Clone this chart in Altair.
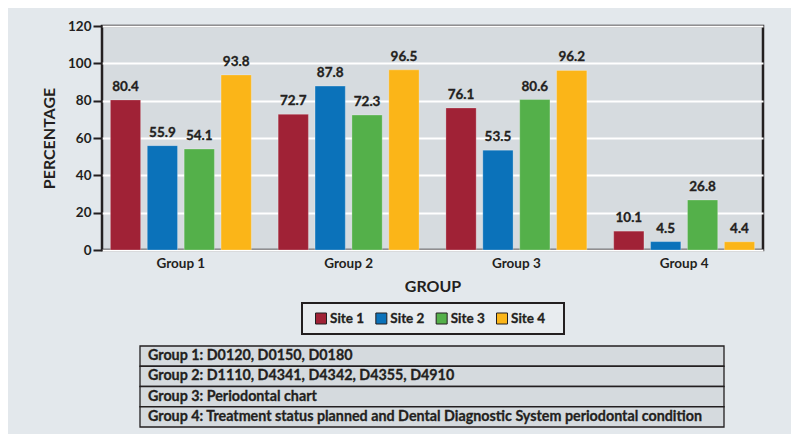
import altair as alt
import pandas as pd

groups = ["Group 1", "Group 2", "Group 3", "Group 4"]
sites = ["Site 1", "Site 2", "Site 3", "Site 4"]
site1 = [80.4, 72.7, 76.1, 10.1]
site2 = [55.9, 87.8, 53.5, 4.5]
site3 = [54.1, 72.3, 80.6, 26.8]
site4 = [93.8, 96.5, 96.2, 4.4]
colors = ["#A02236", "#0B72BA", "#54B04A", "#FBB518"]
y_ticks = [0, 20, 40, 60, 80, 100, 120]
table_rows = [
    "Group 1: D0120, D0150, D0180",
    "Group 2: D1110, D4341, D4342, D4355, D4910",
    "Group 3: Periodontal chart",
    "Group 4: Treatment status planned and Dental Diagnostic System periodontal condition",
]

FONT = "Lato"
W = "bold"
INK = "#231F20"
BG = "#E3E8EC"

rows = []
for s, vals in zip(sites, [site1, site2, site3, site4]):
    for g, v in zip(groups, vals):
        rows.append({"group": g, "site": s, "value": v})
df = pd.DataFrame(rows)

color_scale = alt.Scale(domain=sites, range=colors)

base = alt.Chart(df).encode(
    x=alt.X(
        "group:N", sort=groups,
        scale=alt.Scale(paddingInner=0.16, paddingOuter=0.05),
        axis=alt.Axis(title="GROUP", labelAngle=0, ticks=False, domain=False,
                      labelPadding=6, titlePadding=9, labelFont=FONT,
                      labelFontSize=13.5, labelFontWeight=W, labelColor=INK,
                      titleFont=FONT, titleFontSize=16, titleFontWeight=W,
                      titleColor=INK, grid=False),
    ),
    xOffset=alt.XOffset("site:N", sort=sites,
                        scale=alt.Scale(paddingInner=0.18, paddingOuter=0)),
    y=alt.Y(
        "value:Q",
        scale=alt.Scale(domain=[0, 120], nice=False),
        axis=alt.Axis(values=y_ticks, title="PERCENTAGE", domain=False,
                      tickColor=INK, tickWidth=2, tickSize=9, labelPadding=2,
                      labelFont=FONT, labelFontSize=13.5, labelFontWeight=W,
                      labelColor=INK, titleFont=FONT, titleFontSize=16,
                      titleFontWeight=W, titleColor=INK, titlePadding=10,
                      gridColor="white", gridWidth=2),
    ),
)

bars = base.mark_bar(stroke="white", strokeOpacity=0.25, strokeWidth=1).encode(
    color=alt.Color("site:N", scale=color_scale, legend=None)
)
labels = base.mark_text(baseline="bottom", dy=-6, font=FONT, fontSize=13.5,
                        fontWeight=W, color=INK, stroke=INK, strokeWidth=0.3).encode(
    text=alt.Text("value:Q", format=".1f")
)

main = alt.layer(bars, labels).properties(
    width=661, height=224,
    view=alt.ViewBackground(fill="#D6DBDF", stroke=INK, strokeWidth=2.5),
)

# Legend panel
leg_df = pd.DataFrame({"site": sites})
leg_box = alt.Chart(pd.DataFrame({"k": [0]})).mark_rect(
    fill="#E8ECEF", stroke=INK, strokeWidth=2
).encode(x=alt.value(200), x2=alt.value(462), y=alt.value(7), y2=alt.value(38))
leg_x = alt.X("site:N", sort=sites,
              scale=alt.Scale(type="point", range=[219, 400], padding=0),
              axis=None)
leg_sq = alt.Chart(leg_df).mark_square(size=121, stroke=INK, strokeWidth=1,
                                       opacity=1).encode(
    x=leg_x, y=alt.value(22.5),
    fill=alt.Color("site:N", scale=color_scale, legend=None),
)
leg_txt = alt.Chart(leg_df).mark_text(align="left", dx=9, font=FONT, fontSize=13.5,
                                      fontWeight=W, color=INK, stroke=INK,
                                      strokeWidth=0.3).encode(
    x=leg_x, y=alt.value(23), text="site:N"
)
legend = alt.layer(leg_box, leg_sq, leg_txt).properties(
    width=661, height=49, view=alt.ViewBackground(stroke=None)
)

# Table panel
tbl_df = pd.DataFrame({"row": table_rows})
tbl_y = alt.Y("row:N", sort=table_rows,
              scale=alt.Scale(paddingInner=0, paddingOuter=0), axis=None)
tbl_rect = alt.Chart(tbl_df).mark_rect(fill="#D5DADE", stroke=INK,
                                       strokeWidth=1.3).encode(
    y=tbl_y, x=alt.value(38), x2=alt.value(622)
)
tbl_txt = alt.Chart(tbl_df).mark_text(align="left", font=FONT, fontSize=14.3,
                                      fontWeight=W, color=INK, stroke=INK,
                                      strokeWidth=0.3).encode(
    y=tbl_y, x=alt.value(46), text="row:N"
)
table = alt.layer(tbl_rect, tbl_txt).properties(
    width=661, height=81, view=alt.ViewBackground(stroke=None)
)

chart = alt.vconcat(main, legend, table, spacing=0).properties(
    background=BG,
    padding={"left": 32, "top": 9, "right": 26, "bottom": 6},
).configure_view(strokeWidth=0)

chart.save("out.html", embed_options={"renderer": "svg", "actions": False})
